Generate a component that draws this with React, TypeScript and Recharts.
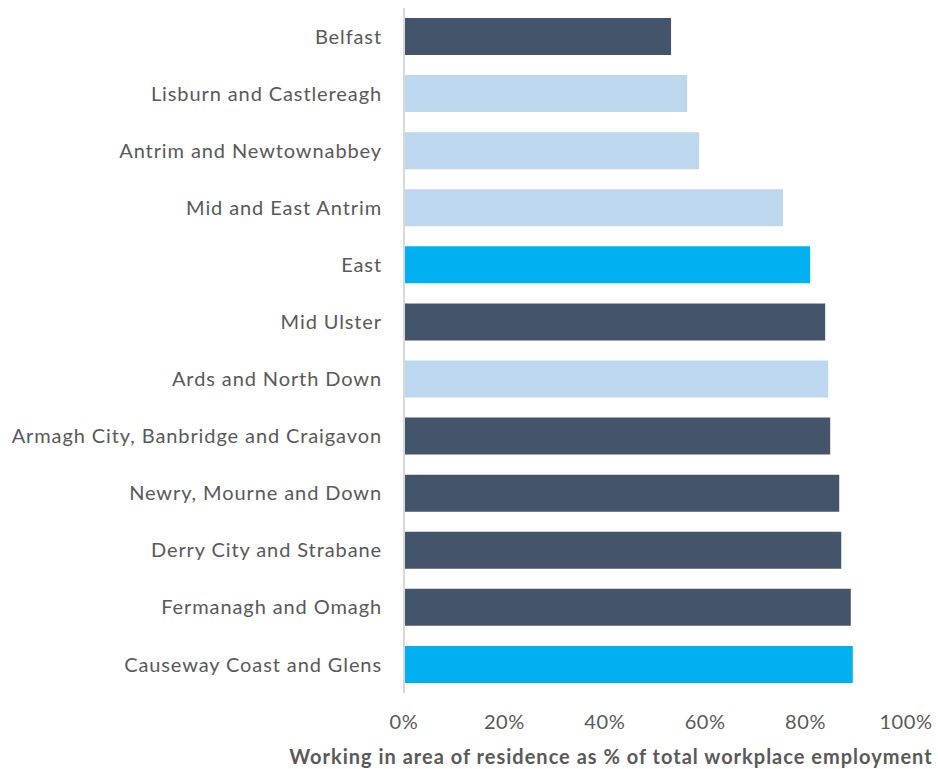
import { BarChart, Bar, XAxis, YAxis, Cell, Label } from "recharts";

const categories = [
  "Belfast",
  "Lisburn and Castlereagh",
  "Antrim and Newtownabbey",
  "Mid and East Antrim",
  "East",
  "Mid Ulster",
  "Ards and North Down",
  "Armagh City, Banbridge and Craigavon",
  "Newry, Mourne and Down",
  "Derry City and Strabane",
  "Fermanagh and Omagh",
  "Causeway Coast and Glens",
];

const values = [53.2, 56.4, 58.8, 75.5, 80.9, 83.9, 84.5, 84.9, 86.7, 87.1, 89.0, 89.4];

// colour group per category
const groups = ["dark", "light", "light", "light", "bright", "dark", "light", "dark", "dark", "dark", "dark", "bright"];

const xTicks = [0, 20, 40, 60, 80, 100];

const COLORS: Record<string, string> = {
  dark: "#44546A",
  light: "#BDD7EE",
  bright: "#00B0F0",
};

const data = categories.map((name, i) => ({ name, value: values[i], group: groups[i] }));

const FONT = "Lato, 'Open Sans', sans-serif";

export default function App() {
  return (
    <div style={{ position: "absolute", left: 0, top: 0, width: 938, height: 769, background: "#fff" }}>
      <BarChart
        width={938}
        height={769}
        data={data}
        layout="vertical"
        margin={{ top: 8, right: 32, bottom: 0, left: 0 }}
      >
        <XAxis
          type="number"
          domain={[0, 100]}
          ticks={xTicks}
          tickFormatter={(v) => `${v}%`}
          axisLine={false}
          tickLine={false}
          tickMargin={16}
          height={76}
          interval={0}
          tick={{ fill: "#595959", fontSize: 20, fontFamily: FONT, letterSpacing: 0.6 }}
        >
          <Label
            value="Working in area of residence as % of total workplace  employment"
            position="insideBottom"
            offset={5}
            dx={-44}
            style={{ fill: "#595959", fontSize: 20, fontWeight: 700, fontFamily: FONT, letterSpacing: 1, whiteSpace: "pre" }}
          />
        </XAxis>
        <YAxis
          type="category"
          dataKey="name"
          width={404}
          interval={0}
          axisLine={{ stroke: "#D9D9D9", strokeWidth: 2 }}
          tickLine={false}
          tickMargin={16}
          tick={{ fill: "#595959", fontSize: 20, fontFamily: FONT, letterSpacing: 0.9 }}
        />
        <Bar dataKey="value" barSize={37} isAnimationActive={false}>
          {data.map((d, i) => (
            <Cell key={i} fill={COLORS[d.group]} />
          ))}
        </Bar>
      </BarChart>
    </div>
  );
}
